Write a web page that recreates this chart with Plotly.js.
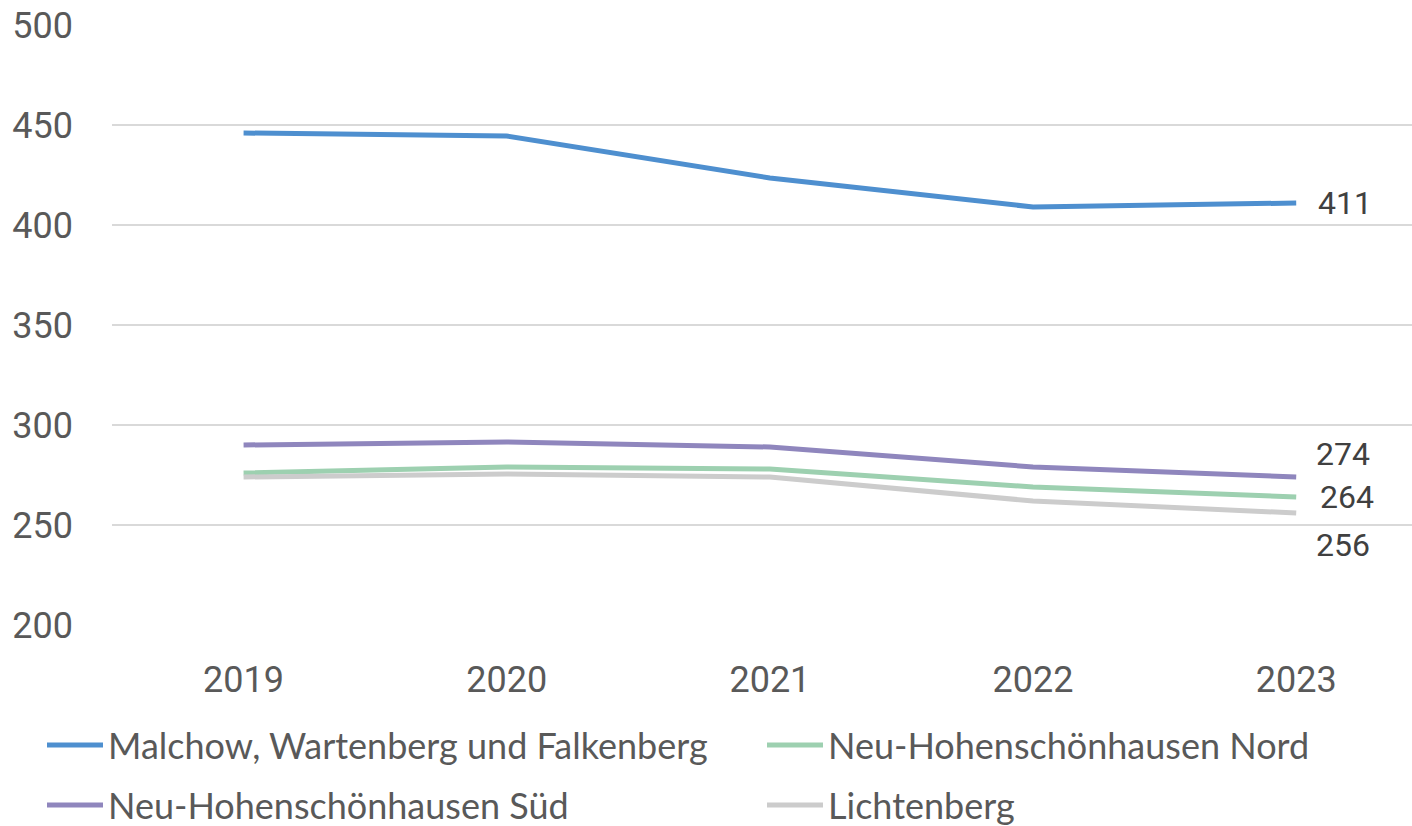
<!DOCTYPE html>
<html>
<head>
<meta charset="utf-8">
<script src="https://cdn.plot.ly/plotly-3.0.1.min.js"></script>
<style>html,body{margin:0;padding:0;background:#fff;}#chart{width:1412px;height:826px;}</style>
</head>
<body>
<div id="chart"></div>
<script>
const years = ["2019", "2020", "2021", "2022", "2023"];
const seriesNames = ["Malchow, Wartenberg und Falkenberg", "Neu-Hohenschönhausen Nord", "Neu-Hohenschönhausen Süd", "Lichtenberg"];
const malchow = [446, 444.5, 423.5, 409, 411];
const nhNord = [276, 279, 278, 269, 264];
const nhSued = [290, 291.5, 289, 279, 274];
const lichtenberg = [274, 275.5, 274, 262, 256];
const colors = ["#4e8fcf", "#9dd0b0", "#8f86bd", "#cccccc"];
const yTicks = [200, 250, 300, 350, 400, 450, 500];

const allSeries = [malchow, nhNord, nhSued, lichtenberg];
const LEGFONT = "Lato, 'Noto Sans', sans-serif";
const TICKFONT = "Roboto, 'Noto Sans', sans-serif";
const legendIds = ["legend", "legend2", "legend3", "legend4"];
const traces = allSeries.map((vals, i) => ({
  type: "scatter", mode: "lines", x: years, y: vals, name: seriesNames[i],
  legend: legendIds[i],
  line: {color: colors[i], width: 5}, hoverinfo: "skip"
}));

// label order: malchow(411), nhSued(274), nhNord(264), lichtenberg(256)
const labelSeries = [malchow, nhSued, nhNord, lichtenberg];
const labelShifts = [{x: 20, y: 0}, {x: 18, y: 23}, {x: 22, y: 0}, {x: 18, y: -32}];
const lastIdx = years.length - 1;
const annotations = labelSeries.map((vals, i) => ({
  x: lastIdx, y: vals[lastIdx], xref: "x", yref: "y",
  text: String(Math.round(vals[lastIdx])), showarrow: false,
  xanchor: "left", yanchor: "middle", xshift: labelShifts[i].x, yshift: labelShifts[i].y,
  font: {family: TICKFONT, size: 32, color: "#404040"}
}));

function legendAt(px, py) {
  return {
    orientation: "h", xref: "container", yref: "container",
    x: px / 1412, y: 1 - py / 826, xanchor: "left", yanchor: "middle",
    itemwidth: 56, bgcolor: "rgba(0,0,0,0)",
    font: {family: LEGFONT, size: 36, color: "#595959"}
  };
}

const layout = {
  width: 1412, height: 826,
  margin: {l: 112, r: 0, t: 25, b: 201, autoexpand: false},
  paper_bgcolor: "#ffffff", plot_bgcolor: "#ffffff",
  font: {family: TICKFONT, color: "#595959", size: 36},
  showlegend: true,
  legend: legendAt(42, 745),
  legend2: legendAt(762, 745),
  legend3: legendAt(42, 805),
  legend4: legendAt(762, 805),
  xaxis: {
    type: "category", range: [-0.5, 4.44], showgrid: false, zeroline: false, showline: false,
    ticks: "", tickfont: {family: TICKFONT, size: 36, color: "#595959"}, ticklabelstandoff: 30
  },
  yaxis: {
    range: [200, 500], tickvals: yTicks, ticktext: yTicks.map(String),
    showgrid: true, gridcolor: "#d9d9d9", gridwidth: 1.5, zeroline: false, showline: false,
    ticks: "", tickfont: {family: TICKFONT, size: 36, color: "#595959"}, ticklabelstandoff: 38
  },
  annotations: annotations
};

Plotly.newPlot("chart", traces, layout, {staticPlot: true, displayModeBar: false});
</script>
</body>
</html>
